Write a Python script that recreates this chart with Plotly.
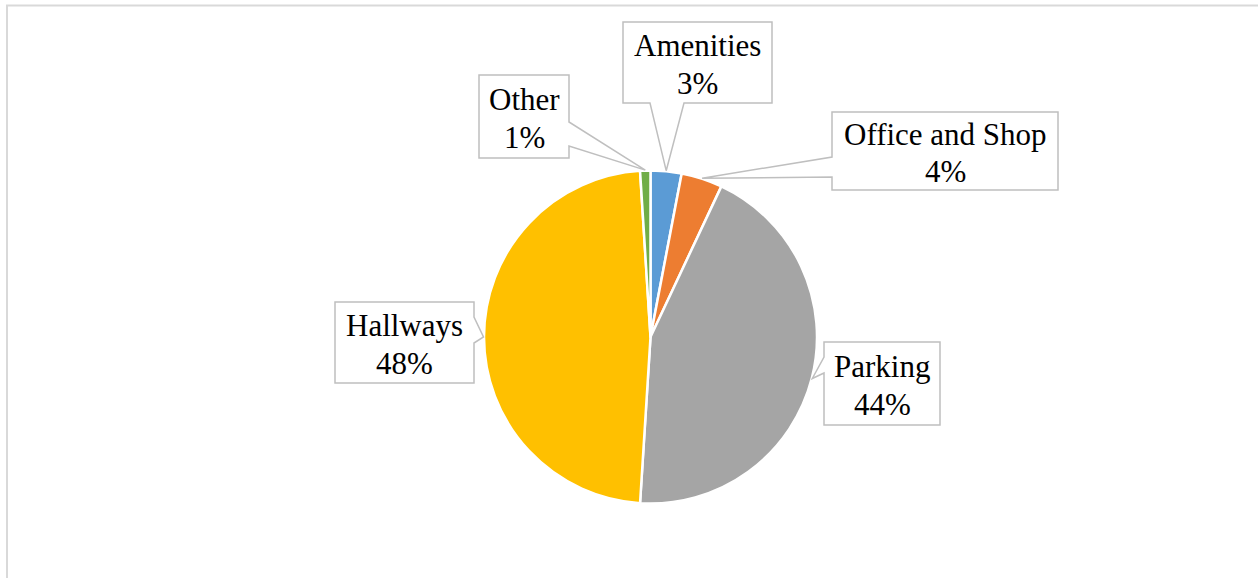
import math
import plotly.graph_objects as go

# Share of floor area by space type
categories = ["Amenities", "Office and Shop", "Parking", "Hallways", "Other"]
shares = [3, 4, 44, 48, 1]
colors = ["#5B9BD5", "#ED7D31", "#A5A5A5", "#FFC000", "#70AD47"]

W, H = 1258, 578
# Pie centre and radius in pixels
CX, CY, R = 650.5, 337.0, 166.5

SERIF = "'Times New Roman', 'Liberation Serif', Tinos, 'DejaVu Serif', serif"
FONT_SIZE = 31
LINE_GAP = 37.5  # distance between the name line and the percent line

# Callout boxes (x0, y0, x1, y1) in pixels, the box side carrying the pointer,
# and the two points where the pointer leaves that side
callouts = {
    "Amenities":       dict(box=(623, 22, 772, 103), side="bottom", base=(650, 684)),
    "Office and Shop": dict(box=(832, 112, 1058, 190), side="left", base=(157, 177)),
    "Parking":         dict(box=(824, 342, 940, 425), side="left", base=(357, 373)),
    "Hallways":        dict(box=(335, 302, 474, 383), side="right", base=(317, 343)),
    "Other":           dict(box=(479, 75, 569, 158), side="right", base=(122, 146)),
}

fig = go.Figure()

fig.add_trace(go.Pie(
    labels=categories,
    values=shares,
    sort=False,
    direction="clockwise",
    rotation=0,
    marker=dict(colors=colors, line=dict(color="white", width=2.5)),
    textinfo="none",
    hoverinfo="label+percent",
    showlegend=False,
    domain=dict(x=[(CX - R) / W, (CX + R) / W],
                y=[1 - (CY + R) / H, 1 - (CY - R) / H]),
))


def callout_path(box, side, base, tip):
    x0, y0, x1, y1 = box
    tx, ty = tip
    b1, b2 = base
    if side == "bottom":
        pts = [(x0, y0), (x1, y0), (x1, y1), (b2, y1), (tx, ty), (b1, y1), (x0, y1)]
    elif side == "top":
        pts = [(x0, y0), (b1, y0), (tx, ty), (b2, y0), (x1, y0), (x1, y1), (x0, y1)]
    elif side == "left":
        pts = [(x0, y0), (x1, y0), (x1, y1), (x0, y1), (x0, b2), (tx, ty), (x0, b1)]
    else:  # right
        pts = [(x0, y0), (x1, y0), (x1, b1), (tx, ty), (x1, b2), (x1, y1), (x0, y1)]
    return "M " + " L ".join(f"{px:.1f},{py:.1f}" for px, py in pts) + " Z"


total = sum(shares)
cum = 0.0
shapes = []
annotations = []
for name, val in zip(categories, shares):
    mid = (cum + val / 2) / total * 2 * math.pi
    cum += val
    tip = (CX + (R + 0.5) * math.sin(mid), CY - (R + 0.5) * math.cos(mid))
    c = callouts[name]
    shapes.append(dict(
        type="path", xref="x", yref="y", layer="above",
        path=callout_path(c["box"], c["side"], c["base"], tip),
        line=dict(color="#BFBFBF", width=1.5), fillcolor="white",
    ))
    x0, y0, x1, y1 = c["box"]
    xc, yc = (x0 + x1) / 2, (y0 + y1) / 2 + 2
    for line_text, dy in ((name, -LINE_GAP / 2), (f"{val / total * 100:.0f}%", LINE_GAP / 2)):
        annotations.append(dict(
            x=xc, y=yc + dy, xref="x", yref="y",
            text=line_text,
            showarrow=False, xanchor="center", yanchor="middle", align="center",
            font=dict(family=SERIF, size=FONT_SIZE, color="black"),
        ))

# Chart area frame
shapes.insert(0, dict(
    type="rect", xref="x", yref="y", layer="above",
    x0=7, y0=5.5, x1=W + 10, y1=H + 10,
    line=dict(color="#D9D9D9", width=2), fillcolor="rgba(0,0,0,0)",
))

fig.update_layout(
    width=W, height=H,
    margin=dict(l=0, r=0, t=0, b=0),
    paper_bgcolor="white", plot_bgcolor="white",
    font=dict(family=SERIF),
    xaxis=dict(range=[0, W], visible=False, fixedrange=True, domain=[0, 1]),
    yaxis=dict(range=[H, 0], visible=False, fixedrange=True, domain=[0, 1]),
    shapes=shapes,
    annotations=annotations,
    showlegend=False,
)

fig.write_html("out.html")
